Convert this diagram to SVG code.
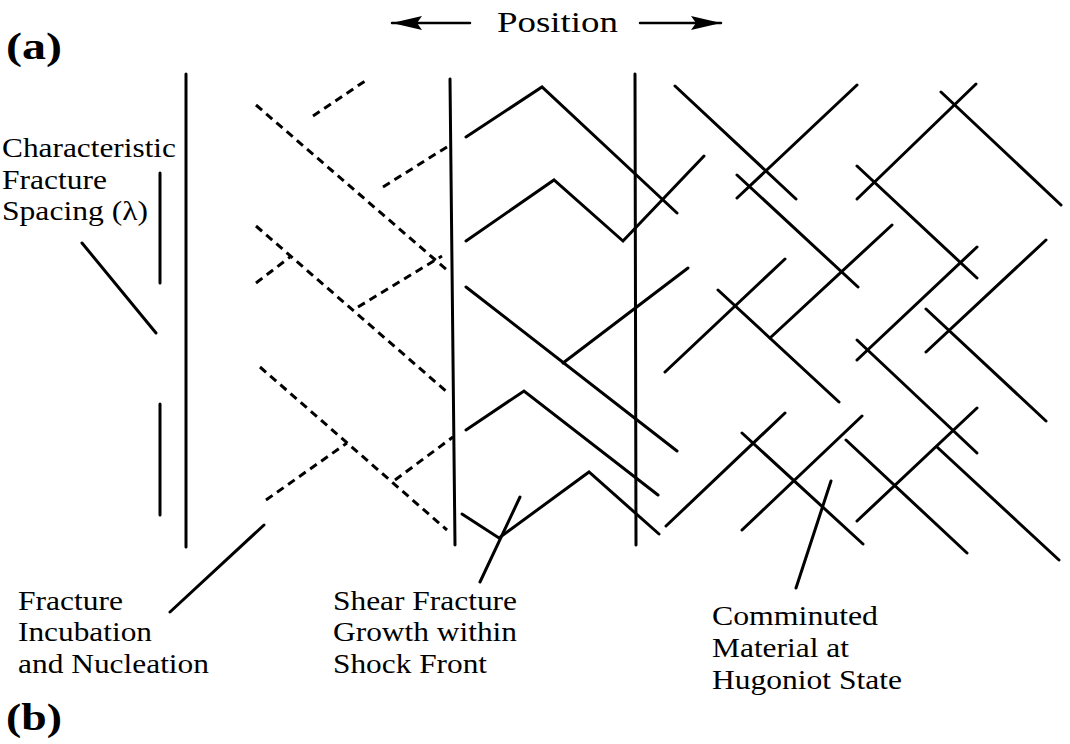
<svg xmlns="http://www.w3.org/2000/svg" width="1070" height="744" viewBox="0 0 1070 744">
<style>
  .s { fill: none; stroke: #000; stroke-width: 3; stroke-linecap: round; stroke-linejoin: miter; }
  .d { fill: none; stroke: #000; stroke-width: 3; stroke-dasharray: 8 5.5; }
  .t { font-family: 'Liberation Serif', serif; font-size: 27px; fill: #000; }
  .b { font-family: 'Liberation Serif', serif; font-size: 38px; font-weight: bold; fill: #000; }
</style>
<defs>
  <marker id="ah" markerUnits="userSpaceOnUse" markerWidth="34" markerHeight="16" refX="30" refY="7" orient="auto">
    <path d="M0,0 L30,7 L0,14 L5,7 Z" fill="#000"/>
  </marker>
</defs>
<rect width="1070" height="744" fill="#fff"/>

<g id="labels">
  <text class="b" x="6" y="59" textLength="56" lengthAdjust="spacingAndGlyphs">(a)</text>
  <text class="b" x="6" y="730" textLength="56" lengthAdjust="spacingAndGlyphs">(b)</text>
  <text class="t" x="497" y="32" style="font-size:29px" textLength="121" lengthAdjust="spacingAndGlyphs">Position</text>
  <text class="t" x="2" y="157" textLength="174" lengthAdjust="spacingAndGlyphs">Characteristic</text>
  <text class="t" x="2" y="189" textLength="105" lengthAdjust="spacingAndGlyphs">Fracture</text>
  <text class="t" x="2" y="220" textLength="146" lengthAdjust="spacingAndGlyphs">Spacing (λ)</text>
  <text class="t" x="18" y="610" textLength="105" lengthAdjust="spacingAndGlyphs">Fracture</text>
  <text class="t" x="18" y="641" textLength="134" lengthAdjust="spacingAndGlyphs">Incubation</text>
  <text class="t" x="18" y="673" textLength="191" lengthAdjust="spacingAndGlyphs">and Nucleation</text>
  <text class="t" x="333" y="610" textLength="184" lengthAdjust="spacingAndGlyphs">Shear Fracture</text>
  <text class="t" x="333" y="641" textLength="184" lengthAdjust="spacingAndGlyphs">Growth within</text>
  <text class="t" x="333" y="673" textLength="154" lengthAdjust="spacingAndGlyphs">Shock Front</text>
  <text class="t" x="712" y="625" textLength="166" lengthAdjust="spacingAndGlyphs">Comminuted</text>
  <text class="t" x="712" y="657" textLength="137" lengthAdjust="spacingAndGlyphs">Material at</text>
  <text class="t" x="712" y="689" textLength="190" lengthAdjust="spacingAndGlyphs">Hugoniot State</text>
</g>

<g id="connectors">
  <line class="s" x1="470" y1="23" x2="392" y2="23" marker-end="url(#ah)" style="stroke-width:2.5"/>
  <line class="s" x1="640" y1="23" x2="721" y2="23" marker-end="url(#ah)" style="stroke-width:2.5"/>
  <line class="s" x1="82" y1="243" x2="156" y2="333"/>
  <line class="s" x1="264" y1="525" x2="170" y2="612"/>
  <line class="s" x1="520" y1="497" x2="480" y2="582"/>
  <line class="s" x1="831" y1="481" x2="796" y2="588"/>
</g>

<g id="spacing-bracket">
  <line class="s" x1="160" y1="173" x2="160" y2="283"/>
  <line class="s" x1="160" y1="404" x2="160" y2="515"/>
</g>

<g id="shock-fronts">
  <line class="s" x1="186" y1="74" x2="186" y2="547"/>
  <line class="s" x1="450" y1="79" x2="455" y2="545"/>
  <line class="s" x1="635" y1="74" x2="636" y2="545"/>
</g>

<g id="nucleation">
  <line class="d" x1="256" y1="105" x2="447" y2="270"/>
  <line class="d" x1="313" y1="116" x2="368" y2="79"/>
  <line class="d" x1="383" y1="187" x2="450" y2="145"/>
  <line class="d" x1="256" y1="226" x2="447" y2="392"/>
  <line class="d" x1="256" y1="283" x2="290" y2="257"/>
  <line class="d" x1="358" y1="307" x2="442" y2="256"/>
  <line class="d" x1="260" y1="367" x2="447" y2="530"/>
  <line class="d" x1="266" y1="500" x2="347" y2="443"/>
  <line class="d" x1="395" y1="480" x2="453" y2="437"/>
</g>

<g id="shear-growth">
  <polyline class="s" points="466,137 542,87 677,213"/>
  <polyline class="s" points="466,241 554,180 623,241 704,156"/>
  <line class="s" x1="688" y1="268" x2="563" y2="363"/>
  <line class="s" x1="466" y1="287" x2="677" y2="451"/>
  <polyline class="s" points="466,430 524,391 658,495"/>
  <polyline class="s" points="462,514 499,538 589,472 659,534"/>
</g>

<g id="comminuted">
  <line class="s" x1="675" y1="86" x2="796" y2="199"/>
  <line class="s" x1="857" y1="85" x2="737" y2="198"/>
  <line class="s" x1="737" y1="175" x2="858" y2="287"/>
  <line class="s" x1="892" y1="225" x2="770" y2="338"/>
  <line class="s" x1="785" y1="259" x2="665" y2="372"/>
  <line class="s" x1="718" y1="290" x2="839" y2="402"/>
  <line class="s" x1="976" y1="84" x2="857" y2="199"/>
  <line class="s" x1="941" y1="92" x2="1061" y2="205"/>
  <line class="s" x1="857" y1="166" x2="977" y2="278"/>
  <line class="s" x1="977" y1="247" x2="857" y2="360"/>
  <line class="s" x1="1046" y1="240" x2="926" y2="352"/>
  <line class="s" x1="857" y1="340" x2="977" y2="453"/>
  <line class="s" x1="926" y1="309" x2="1046" y2="421"/>
  <line class="s" x1="785" y1="413" x2="666" y2="526"/>
  <line class="s" x1="742" y1="433" x2="863" y2="544"/>
  <line class="s" x1="862" y1="416" x2="742" y2="530"/>
  <line class="s" x1="846" y1="440" x2="967" y2="553"/>
  <line class="s" x1="977" y1="408" x2="857" y2="521"/>
  <line class="s" x1="937" y1="447" x2="1059" y2="560"/>
</g>
</svg>
